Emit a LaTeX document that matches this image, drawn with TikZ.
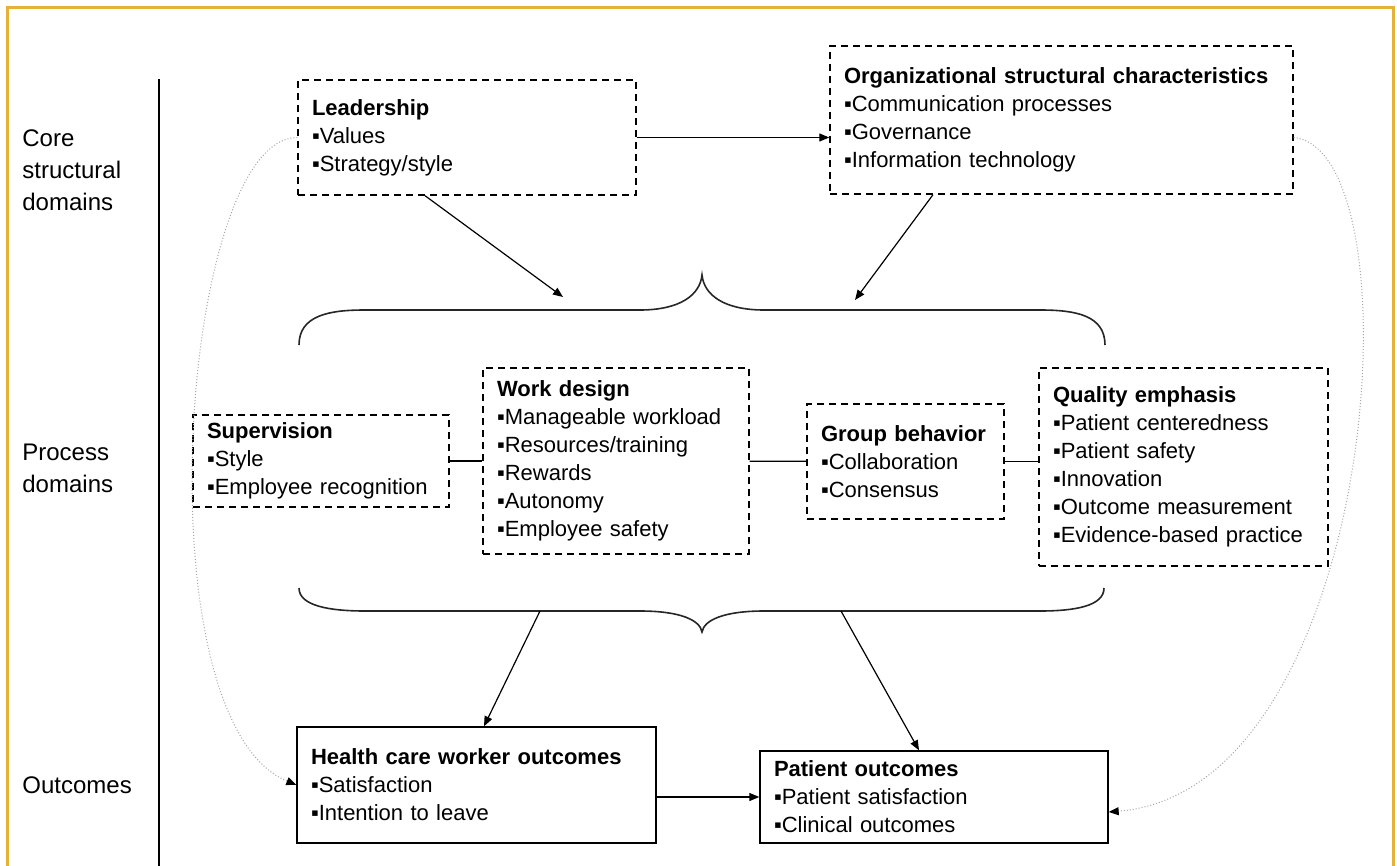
\documentclass[tikz,border=0pt]{standalone}
\usepackage{fontspec}
\setmainfont{Liberation Sans}
\usetikzlibrary{arrows.meta,calc}
\definecolor{framegold}{RGB}{228,178,56}

\begin{document}
\begin{tikzpicture}[x=0.5pt,y=-0.5pt,
  every node/.style={font=\fontsize{11}{14}\selectfont},
  box/.style 2 args={draw,dash pattern=on 3.5pt off 2.5pt,line width=0.7pt,align=left,
    inner xsep=7pt,inner ysep=0pt,text width=#1,minimum height=#2},
  solidbox/.style 2 args={box={#1}{#2},solid},
  tier/.style={anchor=west,align=left,inner sep=0pt,font=\fontsize{12}{16}\selectfont},
  link/.style={line width=0.6pt,-{Triangle[length=5pt,width=4pt]}},
  tie/.style={line width=0.6pt},
  feedback/.style={gray!70,densely dotted,line width=0.5pt,-{Triangle[length=5pt,width=4pt,black]}},
  brace/.style={line width=0.8pt,black!85}]
  \useasboundingbox (0,0) rectangle (1397,866);
  \draw[framegold,line width=1.5pt] (7,866) -- (7,8) -- (1393,8) -- (1393,866);
  \draw[line width=0.8pt] (159,79) -- (159,866);

  \node[tier] (D0) at (22,170) {Core\\structural\\domains};
  \node[tier] (D1) at (22,468) {Process\\domains};
  \node[tier] (D2) at (22,785) {Outcomes};

  \node[box={155pt}{57.5pt}] (Lead) at (467,137.5) {\textbf{Leadership}\\▪Values\\▪Strategy/style};
  \node[box={217.5pt}{74pt}] (Org) at (1061.5,120) {\textbf{Organizational structural characteristics}\\▪Communication processes\\▪Governance\\▪Information technology};
  \node[box={114pt}{46pt}] (Sup) at (321,461) {\textbf{Supervision}\\▪Style\\▪Employee recognition};
  \node[box={119pt}{93pt}] (Work) at (616,461) {\textbf{Work design}\\▪Manageable workload\\▪Resources/training\\▪Rewards\\▪Autonomy\\▪Employee safety};
  \node[box={84.5pt}{57.5pt}] (Grp) at (905.5,461.5) {\textbf{Group behavior}\\▪Collaboration\\▪Consensus};
  \node[box={130.5pt}{99pt}] (Qual) at (1183.5,467) {\textbf{Quality emphasis}\\▪Patient centeredness\\▪Patient safety\\▪Innovation\\▪Outcome measurement\\▪Evidence-based practice};
  \node[solidbox={165.5pt}{58pt}] (Hcw) at (476.5,785) {\textbf{Health care worker outcomes}\\▪Satisfaction\\▪Intention to leave};
  \node[solidbox={160pt}{46pt}] (Pat) at (934,797) {\textbf{Patient outcomes}\\▪Patient satisfaction\\▪Clinical outcomes};

  \draw[brace] (299,345) .. controls (299,315) and (330,310) .. (365,310) -- (640,310)
    .. controls (680,310) and (700,295) .. (702,275) .. controls (704,295) and (724,310) .. (764,310)
    -- (1040,310) .. controls (1075,310) and (1105,315) .. (1105,345);
  \draw[brace] (299,588) .. controls (299,606) and (330,611) .. (365,611) -- (640,611)
    .. controls (680,611) and (700,620) .. (702,632) .. controls (704,620) and (724,611) .. (764,611)
    -- (1040,611) .. controls (1075,611) and (1104,606) .. (1104,588);

  \coordinate (T1) at (563,297);
  \coordinate (T2) at (855,300);
  \coordinate (B1) at (540,611);
  \coordinate (B2) at (841,611);

  \path[link]
    (Lead.east) edge (Lead.east -| Org.west)
    ($(Lead.south)+(-42,0)$) edge (T1)
    ($(Org.south)+(-128.5,0)$) edge (T2)
    (B1) edge ($(Hcw.north)+(7.5,0)$)
    (B2) edge ($(Pat.north)+(-15,0)$)
    (Hcw.east |- Pat.west) edge (Pat.west);
  \path[tie]
    (Sup) edge (Work)
    (Work) edge (Grp)
    (Grp.east) edge (Grp.east -| Qual.west);

  \draw[feedback] (Lead.west) .. controls +(-117,0) and +(-157,-65) .. (Hcw.west);
  \draw[feedback] (Org.east |- Lead.east) .. controls +(127,12.5) and +(272,-22) .. ($(Pat.east)+(0,15)$);
\end{tikzpicture}
\end{document}
